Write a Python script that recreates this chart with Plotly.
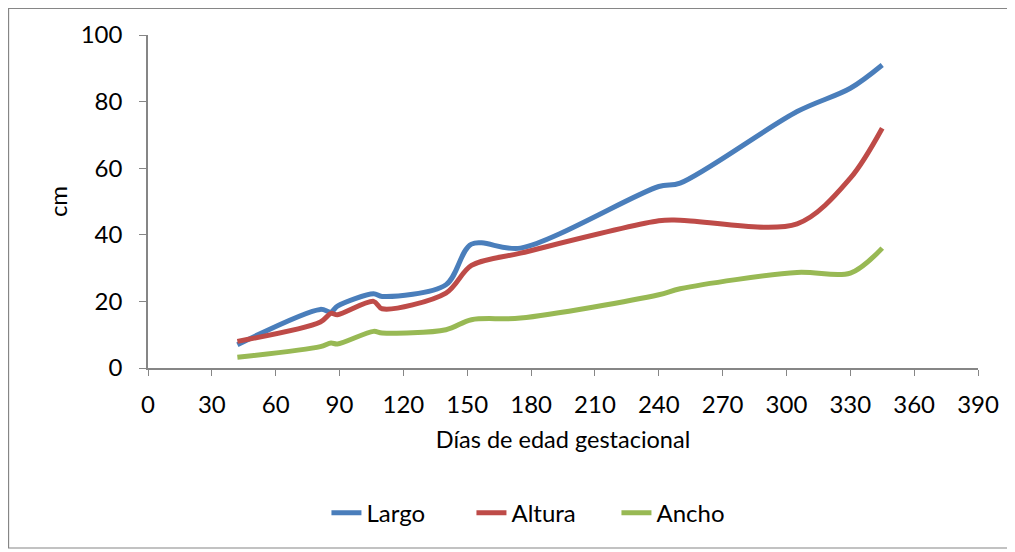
import plotly.graph_objects as go

dias = [42, 81, 86, 89, 106, 110, 140, 152, 175, 240, 250, 305, 330, 345]
largo = [7.0, 17.6, 16.8, 18.6, 22.3, 21.5, 25.0, 37.2, 36.0, 54.5, 55.5, 77.0, 84.0, 91.0]
altura = [8.0, 13.8, 16.4, 16.0, 20.0, 17.8, 22.5, 30.8, 34.5, 44.2, 44.4, 43.3, 57.0, 72.0]
ancho = [3.2, 6.4, 7.5, 7.2, 11.0, 10.5, 11.5, 14.5, 15.0, 22.0, 23.8, 28.7, 28.5, 36.0]

x_ticks = list(range(0, 391, 30))
y_ticks = list(range(0, 101, 20))

series = [("Largo", largo, "#4A7EBB"), ("Altura", altura, "#BE4B48"), ("Ancho", ancho, "#98B954")]

fig = go.Figure()
for name, vals, col in series:
    fig.add_trace(go.Scatter(x=dias, y=vals, name=name, mode="lines",
                             line=dict(color=col, width=5, shape="spline", smoothing=0.9)))

axis_col = "#868686"
fam = "Lato, Open Sans, sans-serif"

fig.update_layout(
    width=1007, height=544,
    margin=dict(l=140, r=37, t=27, b=184),
    paper_bgcolor="white", plot_bgcolor="white",
    font=dict(family=fam, size=24, color="#000000"),
    showlegend=True,
    legend=dict(orientation="h", x=0.215, xanchor="left", y=-0.436, yanchor="middle",
                font=dict(family=fam, size=24, color="#000000"),
                entrywidth=100, entrywidthmode="pixels"),
    xaxis=dict(range=[0, 390], tickvals=x_ticks, showgrid=False, zeroline=False,
               showline=True, linecolor=axis_col, linewidth=1.5,
               ticks="outside", ticklen=6, tickcolor=axis_col,
               ticklabelstandoff=8,
               tickfont=dict(family=fam, size=24, color="#000000"),
               title=dict(text="Días de edad gestacional", standoff=15,
                          font=dict(family=fam, size=23.5, color="#000000"))),
    yaxis=dict(range=[0, 100], tickvals=y_ticks, showgrid=False, zeroline=False,
               showline=True, linecolor=axis_col, linewidth=1.5,
               ticks="outside", ticklen=7, tickcolor=axis_col,
               ticklabelstandoff=12,
               tickfont=dict(family=fam, size=24, color="#000000"),
               title=dict(text="cm", standoff=6,
                          font=dict(family=fam, size=24, color="#000000"))),
    shapes=[dict(type="rect", xref="paper", yref="paper",
                 x0=-0.168, x1=1.036, y0=-0.5405, y1=1.0796,
                 line=dict(color=axis_col, width=1.2), fillcolor="rgba(0,0,0,0)")],
)

fig.write_html("out.html")
